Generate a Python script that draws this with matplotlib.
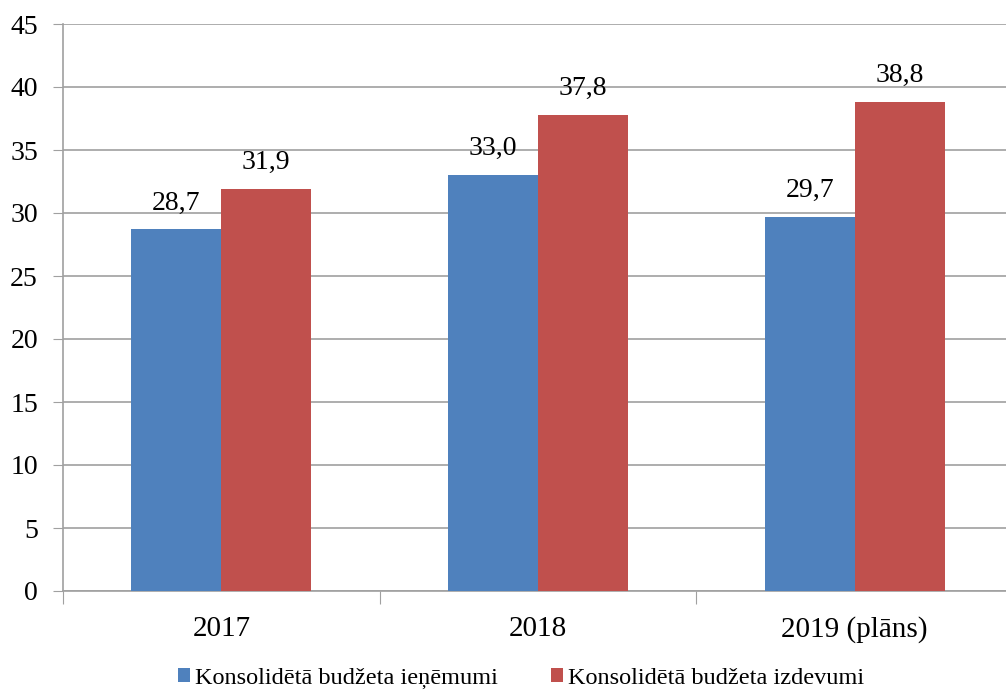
import matplotlib.pyplot as plt
import numpy as np

categories = ["2017", "2018", "2019 (plāns)"]
revenue = [28.7, 33.0, 29.7]
expenditure = [31.9, 37.8, 38.8]
series_names = ["Konsolidētā budžeta ieņēmumi", "Konsolidētā budžeta izdevumi"]

plt.rcParams['font.family'] = ['Liberation Serif', 'DejaVu Serif']

fig = plt.figure(figsize=(10.06, 6.91), dpi=100)
ax = fig.add_axes([63 / 1006, 1 - 591 / 691, 950 / 1006, 567 / 691])

x = np.arange(len(categories))
w = 0.284
b1 = ax.bar(x - w / 2, revenue, w, color="#4F81BD", label=series_names[0], zorder=3)
b2 = ax.bar(x + w / 2, expenditure, w, color="#C0504D", label=series_names[1], zorder=3)

for bars, vals in ((b1, revenue), (b2, expenditure)):
    for rect, v in zip(bars, vals):
        ax.annotate(f"{v:.1f}".replace(".", ","),
                    (rect.get_x() + rect.get_width() / 2, v),
                    xytext=(0, 10), textcoords="offset points",
                    ha="center", va="bottom", fontsize=20)

ax.set_xlim(-0.5, 2.5)
ax.set_ylim(0, 45)
ax.set_yticks(range(0, 46, 5))
ax.tick_params(axis="y", labelsize=20, length=7, color="#A0A0A0", pad=11)
ax.yaxis.grid(True, color="#A0A0A0", linewidth=1.2, zorder=0)

# category boundary ticks, labels in the middle
ax.set_xticks([-0.5, 0.5, 1.5, 2.5])
ax.set_xticklabels([])
ax.set_xticks(x, minor=True)
ax.set_xticklabels(categories, minor=True, fontsize=21)
ax.tick_params(axis="x", which="major", length=9, color="#A0A0A0")
ax.tick_params(axis="x", which="minor", length=0, pad=18)

for side in ("top", "right"):
    ax.spines[side].set_visible(False)
for side in ("left", "bottom"):
    ax.spines[side].set_color("#A0A0A0")
    ax.spines[side].set_linewidth(1.2)

fig.legend(handles=[b1, b2], loc="center", bbox_to_anchor=(0.518, 0.018),
           ncol=2, frameon=False, fontsize=17.5, handlelength=0.5,
           handleheight=0.5, handletextpad=0.2, columnspacing=2.2)

fig.savefig("out.png", dpi=100)
